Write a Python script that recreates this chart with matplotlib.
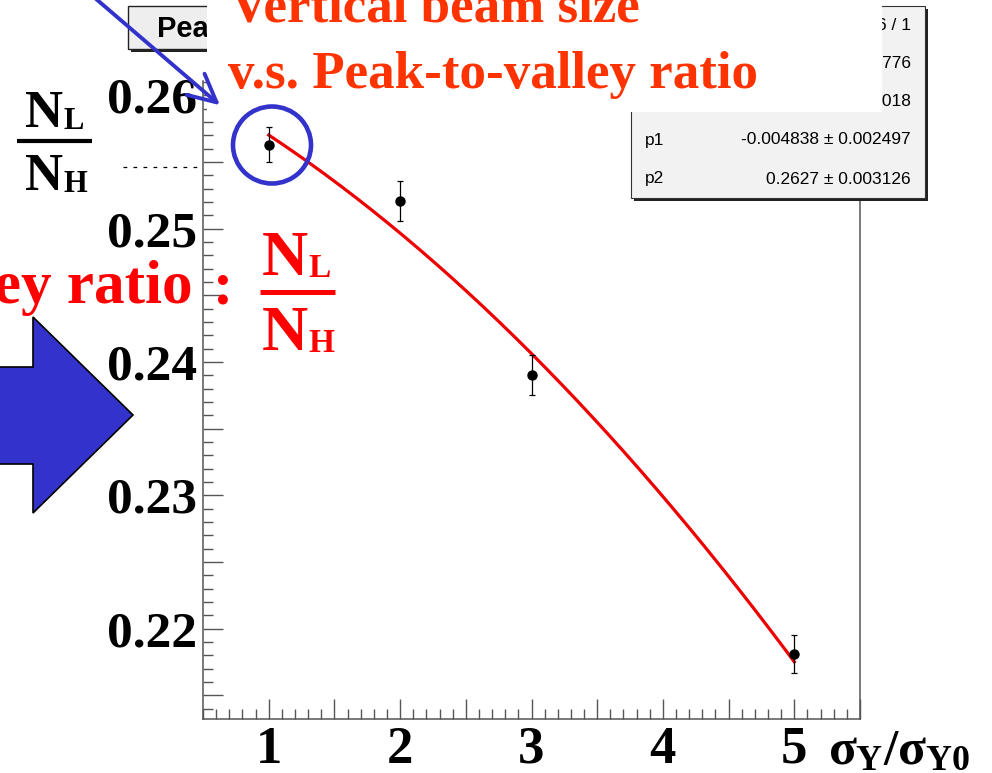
import numpy as np
import matplotlib.pyplot as plt
from matplotlib.patches import Rectangle, Polygon, Ellipse, FancyArrowPatch
from matplotlib.lines import Line2D
from matplotlib.ticker import MultipleLocator

plt.rcParams["mathtext.fontset"] = "custom"
plt.rcParams["mathtext.rm"] = "Liberation Serif:bold"
plt.rcParams["mathtext.it"] = "Liberation Serif:bold"
plt.rcParams["mathtext.bf"] = "Liberation Serif:bold"

W, H = 992, 773

# measured points: sigma_y / sigma_y0 vs peak-to-valley ratio N_L / N_H
beam_ratio = [1, 2, 3, 5]
peak_valley = [0.2563, 0.2521, 0.2390, 0.2181]
peak_valley_err = [0.0013, 0.0015, 0.0015, 0.0014]

# pol2 fit from the stats box (p0 row is covered on the slide, estimated)
fit_p0 = -0.00084
fit_p1 = -0.004838
fit_p2 = 0.2627

stats_labels = ["χ² / ndf", "Prob", "p0", "p1", "p2"]
stats_values = ["1.456 / 1", "0.2776", "-0.0008402 ± 0.0006018",
                "-0.004838 ± 0.002497", "0.2627 ± 0.003126"]

x_label_pos = [1, 2, 3, 4, 5]
x_label_text = ["1", "2", "3", "4", "5"]
y_label_pos = [0.22, 0.23, 0.24, 0.25, 0.26]
y_label_text = ["0.22", "0.23", "0.24", "0.25", "0.26"]

SERIF = "Liberation Serif"
SANS = "Liberation Sans"
BLUE = "#3333cc"


def fpt(x, y):
    # pixel position on the slide -> figure fraction
    return (x / W, 1 - y / H)


def fig_text(x, y, s, **kw):
    fig.text(*fpt(x, y), s, transform=fig.transFigure, **kw)


def fraction(x_n, x_sub, top_base, bot_base, bar_y, bar_x0, bar_x1, size, sub_size, color, bar_lw):
    kw = dict(fontfamily=SERIF, fontweight="bold", color=color, va="baseline", ha="left", zorder=8)
    fig_text(x_n, top_base, "N", fontsize=size, **kw)
    fig_text(x_sub, top_base + 2, "L", fontsize=sub_size, **kw)
    fig_text(x_n, bot_base, "N", fontsize=size, **kw)
    fig_text(x_sub, bot_base + 2, "H", fontsize=sub_size, **kw)
    fig.add_artist(Line2D([bar_x0 / W, bar_x1 / W], [1 - bar_y / H] * 2, transform=fig.transFigure,
                          color=color, lw=bar_lw, solid_capstyle="butt", zorder=8))


fig = plt.figure(figsize=(W / 100, H / 100), dpi=100)

ax = fig.add_axes([203 / W, 1 - 719 / H, (860 - 203) / W, (719 - 81) / H])
ax.set_xlim(0.5, 5.5)
ax.set_ylim(0.213222, 0.261073)

x_fit = np.linspace(beam_ratio[0], beam_ratio[-1], 200)
y_fit = fit_p0 * x_fit ** 2 + fit_p1 * x_fit + fit_p2
ax.plot(x_fit, y_fit, color="#ee0000", lw=2.3, zorder=2)
ax.errorbar(beam_ratio, peak_valley, yerr=peak_valley_err, fmt="o", color="black",
            ms=6.5, elinewidth=0.9, capsize=2.5, capthick=0.9, zorder=3)

ax.spines["top"].set_visible(False)
for side in ["left", "bottom", "right"]:
    ax.spines[side].set_color("#555555")
    ax.spines[side].set_linewidth(1.1)

x_major = np.arange(1.0, 5.51, 0.5)
ax.set_xticks(x_major)
ax.set_xticklabels([x_label_text[x_label_pos.index(int(v))] if v in x_label_pos else "" for v in x_major])
y_major = np.arange(0.215, 0.2606, 0.005)
y_tick_text = []
for v in y_major:
    match = [t for p, t in zip(y_label_pos, y_label_text) if abs(p - v) < 1e-6]
    y_tick_text.append(match[0] if match else "")
ax.set_yticks(y_major)
ax.set_yticklabels(y_tick_text)
ax.xaxis.set_minor_locator(MultipleLocator(0.1))
ax.yaxis.set_minor_locator(MultipleLocator(0.001))
ax.tick_params(which="both", direction="in", color="#555555", width=1.0, top=False, right=False)
ax.tick_params(which="major", length=14.4)
ax.tick_params(which="minor", length=7.2)
ax.tick_params(axis="y", pad=4.5)
ax.tick_params(axis="x", pad=5)
for lab in ax.get_yticklabels():
    lab.set_fontfamily(SERIF)
    lab.set_fontweight("bold")
    lab.set_fontsize(37)
for lab in ax.get_xticklabels():
    lab.set_fontfamily(SERIF)
    lab.set_fontweight("bold")
    lab.set_fontsize(38)

# axis title on the slide
fig_text(828, 764, r"$\sigma_{\mathrm{Y}}/\sigma_{\mathrm{Y0}}$", fontsize=37, va="baseline", ha="left", zorder=8)

# ROOT title box (mostly hidden under the slide text box)
x0, y0 = fpt(128, 49)
fig.add_artist(Rectangle(fpt(131, 52), 300 / W, 43 / H, transform=fig.transFigure,
                         facecolor="#222222", edgecolor="none", zorder=3))
fig.add_artist(Rectangle((x0, y0), 300 / W, 43 / H, transform=fig.transFigure,
                         facecolor="#eeeeee", edgecolor="#222222", lw=1.0, zorder=3))
fig_text(157, 37, "Peak-to-valley ratio", fontsize=21, fontfamily=SANS, fontweight="bold",
         va="baseline", ha="left", zorder=3)

# ROOT stats box
fig.add_artist(Rectangle(fpt(634, 201), 294 / W, 192 / H, transform=fig.transFigure,
                         facecolor="#222222", edgecolor="none", zorder=3))
fig.add_artist(Rectangle(fpt(631, 198), 294 / W, 192 / H, transform=fig.transFigure,
                         facecolor="#f2f2f2", edgecolor="#333333", lw=0.8, zorder=3))
row_y = [25, 63, 102, 140, 179]
for ry, lab, val in zip(row_y, stats_labels, stats_values):
    fig_text(645, ry, lab, fontsize=12.5, fontfamily=SANS, va="center", ha="left", zorder=3)
    fig_text(911, ry, val, fontsize=12.5, fontfamily=SANS, va="center", ha="right", zorder=3)

# white text box of the slide title covering the top of the plot
fig.add_artist(Rectangle(fpt(207, 112), (882 - 207) / W, 125 / H, transform=fig.transFigure,
                         facecolor="white", edgecolor="none", zorder=4))

fig_text(230, 22, "Vertical beam size", fontsize=38.2, fontfamily=SERIF, fontweight="bold",
         color="#ff3300", va="baseline", ha="left", zorder=6)
fig_text(228, 88, "v.s. Peak-to-valley ratio", fontsize=38.2, fontfamily=SERIF, fontweight="bold",
         color="#ff3300", va="baseline", ha="left", zorder=6)
fig_text(193, 303, "Peak-to-valley ratio", fontsize=44, fontfamily=SERIF, fontweight="bold",
         color="#ff0000", va="baseline", ha="right", zorder=6)
fig_text(213, 303, ":", fontsize=44, fontfamily=SERIF, fontweight="bold",
         color="#ff0000", va="baseline", ha="left", zorder=6)

fraction(25, 63, 127, 190, 141, 17, 92, 38, 22, "black", 3.0)
fraction(262, 308, 275, 350, 292, 260, 335, 46, 24, "#ff0000", 3.6)

# dashed guide next to the left fraction
fig.add_artist(Line2D([123 / W, 200 / W], [1 - 167 / H] * 2, transform=fig.transFigure,
                      color="black", lw=0.9, ls=(0, (3, 5)), zorder=5))

# big blue block arrow on the left
arrow_px = [(-10, 367), (33, 367), (33, 317), (133, 415), (33, 513), (33, 464), (-10, 464)]
fig.add_artist(Polygon([fpt(x, y) for x, y in arrow_px], closed=True, transform=fig.transFigure,
                       facecolor=BLUE, edgecolor="black", lw=1.2, zorder=6))

# thin blue pointer arrow and circle around the first point
fig.add_artist(FancyArrowPatch(fpt(74, -20), fpt(222, 107), transform=fig.transFigure,
                               arrowstyle="->,head_length=1.0,head_width=0.5", mutation_scale=20,
                               color=BLUE, lw=2.8, zorder=7))
fig.add_artist(Ellipse(fpt(272, 145), 78 / W, 77 / H, transform=fig.transFigure,
                       facecolor="none", edgecolor=BLUE, lw=3.3, zorder=7))

fig.savefig("out.png", dpi=100)
